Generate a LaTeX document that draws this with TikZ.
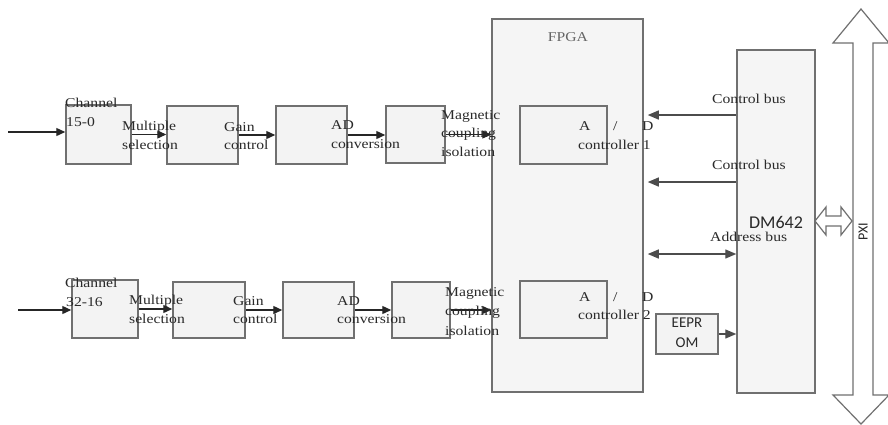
\documentclass[tikz,border=0pt]{standalone}
\usepackage{fontspec}
\setmainfont{Liberation Serif}[FakeStretch=1.16]
\newfontfamily\sansf{Carlito}
\usetikzlibrary{arrows.meta}
\definecolor{bord}{HTML}{707070}
\definecolor{boxfill}{HTML}{F3F3F3}
\definecolor{txt}{HTML}{2A2A2A}
\begin{document}
\begin{tikzpicture}[x=1pt,y=-1pt,
  blk/.style={draw=bord,line width=1.5pt,fill=boxfill,inner sep=0pt},
  lbl/.style={anchor=west,inner sep=0pt,text=txt,font=\fontsize{13.5}{16}\selectfont},
  arr/.style={line width=1.3pt,draw=black!85,-{Triangle[length=9pt,width=8pt]}},
  bus/.style={line width=1.3pt,draw=black!70,-{Triangle[length=11pt,width=9pt]}},
  dbus/.style={line width=1.3pt,draw=black!70,{Triangle[length=11pt,width=9pt]}-{Triangle[length=11pt,width=9pt]}},
  hollow/.style={draw=bord,line width=1.2pt,fill=white,line join=miter}]
\useasboundingbox (0,0) rectangle (888,424);
\fill[white] (0,0) rectangle (888,424);

% top row
\node[blk,minimum width=65pt,minimum height=59pt] (c1) at (98.5,134.5) {};
\node[blk,minimum width=71pt,minimum height=58pt] (m1) at (202.5,135) {};
\node[blk,minimum width=71pt,minimum height=58pt] (g1) at (311.5,135) {};
\node[blk,minimum width=59pt,minimum height=57pt] (a1) at (415.5,134.5) {};
% bottom row
\node[blk,minimum width=66pt,minimum height=58pt] (c2) at (105,309) {};
\node[blk,minimum width=72pt,minimum height=56pt] (m2) at (209,310) {};
\node[blk,minimum width=71pt,minimum height=56pt] (g2) at (318.5,310) {};
\node[blk,minimum width=58pt,minimum height=56pt] (a2) at (421,310) {};
% FPGA
\node[blk,fill=black!4,minimum width=151pt,minimum height=373pt] (fpga) at (567.5,205.5) {};
\node[blk,minimum width=87pt,minimum height=58pt] (ad1) at (563.5,135) {};
\node[blk,minimum width=87pt,minimum height=57pt] (ad2) at (563.5,309.5) {};
\node[blk,minimum width=62pt,minimum height=40pt] (ee) at (687,334) {};
\node[blk,fill=black!4,minimum width=78pt,minimum height=343pt] (dm) at (776,221.5) {};

% inputs
\coordinate (in1) at (8,132);
\coordinate (in2) at (18,310);
\draw[arr] (in1) -- (in1 -| c1.west);
\draw[arr] (in2) -- (in2 -| c2.west);
% chain arrows
\draw[arr] (c1.east) -- (c1.east -| m1.west);
\draw[arr] (m1.east) -- (m1.east -| g1.west);
\draw[arr] (g1.east) -- (g1.east -| a1.west);
\draw[arr] (a1.east) -- (a1.east -| fpga.west);
\draw[arr] (c2.east) -- (c2.east -| m2.west);
\draw[arr] (m2.east) -- (m2.east -| g2.west);
\draw[arr] (g2.east) -- (g2.east -| a2.west);
\draw[arr] (a2.east) -- (a2.east -| fpga.west);

% buses
\draw[bus] (dm.west |- 0,115) -- ([xshift=4pt]fpga.east |- 0,115);
\draw[bus] (dm.west |- 0,182) -- ([xshift=4pt]fpga.east |- 0,182);
\draw[dbus] ([xshift=4pt]fpga.east |- 0,254) -- (dm.west |- 0,254);
\draw[bus] (ee.east) -- (ee.east -| dm.west);

% texts
\node[lbl] (t1) at (65,103) {Channel};
\node[lbl] (t2) at (66,122) {15-0};
\node[lbl] (t3) at (122,127) {Multiple};
\node[lbl] (t4) at (122,145) {selection};
\node[lbl] (t5) at (224,127) {Gain};
\node[lbl] (t6) at (224,145) {control};
\node[lbl] (t7) at (331,125) {AD};
\node[lbl] (t8) at (331,144) {conversion};
\node[lbl] (t9) at (441,116) {Magnetic};
\node[lbl] (t10) at (441,134) {coupling};
\node[lbl] (t11) at (441,152) {isolation};

\node[lbl] (b1) at (65,283) {Channel};
\node[lbl] (b2) at (66,302) {32-16};
\node[lbl] (b3) at (129,301) {Multiple};
\node[lbl] (b4) at (129,319) {selection};
\node[lbl] (b5) at (233,301) {Gain};
\node[lbl] (b6) at (233,319) {control};
\node[lbl] (b7) at (337,301) {AD};
\node[lbl] (b8) at (337,319) {conversion};
\node[lbl] (b9) at (445,293) {Magnetic};
\node[lbl] (b10) at (445,312) {coupling};
\node[lbl] (b11) at (445,331) {isolation};

\node[lbl,anchor=center,text=black!60] (fl) at (568,37) {FPGA};
\node[lbl] (d1a) at (579,126) {A};
\node[lbl] (d1b) at (613,126) {/};
\node[lbl] (d1c) at (642,126) {D};
\node[lbl] (d1d) at (578,145) {controller 1};
\node[lbl] (d2a) at (579,297) {A};
\node[lbl] (d2b) at (613,297) {/};
\node[lbl] (d2c) at (642,297) {D};
\node[lbl] (d2d) at (578,315) {controller 2};

\node[lbl] (cb1) at (712,99) {Control bus};
\node[lbl] (cb2) at (712,165) {Control bus};
\node[lbl] (ab) at (710,237) {Address bus};

\node[inner sep=0pt,text=txt,font=\sansf\fontsize{15}{20}\selectfont,align=center] (eet) at (687,333) {EEPR\\OM};
\node[inner sep=0pt,text=txt,font=\sansf\fontsize{18}{20}\selectfont] (dml) at (776,222) {DM642};

% small double hollow arrow
\draw[hollow] (815,221) -- (826,207) -- (826,216) -- (841,216) -- (841,207) -- (852,221)
  -- (841,235) -- (841,226) -- (826,226) -- (826,235) -- cycle;
% PXI bus
\draw[hollow] (861,9) -- (889,43) -- (873,43) -- (873,395) -- (889,395) -- (861,424)
  -- (833,395) -- (853,395) -- (853,43) -- (833,43) -- cycle;
\node[inner sep=0pt,text=txt,rotate=90,font=\sansf\fontsize{14}{16}\selectfont] (pxi) at (863,232) {PXI};
\end{tikzpicture}
\end{document}
